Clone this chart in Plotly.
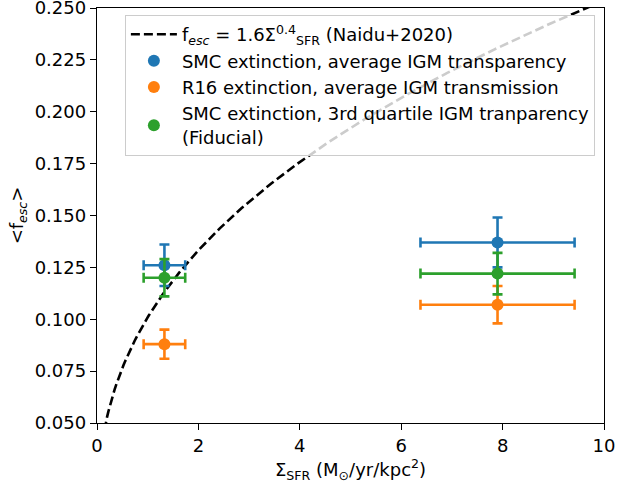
import numpy as np
import plotly.graph_objects as go

# Data
series_names = [
    "SMC extinction, average IGM transparency",
    "R16 extinction, average IGM transmission",
    "SMC extinction, 3rd quartile IGM tranparency<br>(Fiducial)",
]
series_colors = ["#1f77b4", "#ff7f0e", "#2ca02c"]
sigma_sfr = [1.33, 7.90]
sigma_sfr_err = [0.41, 1.52]
fesc_smc_avg = [0.126, 0.137]
fesc_smc_avg_err = [0.010, 0.012]
fesc_r16_avg = [0.088, 0.107]
fesc_r16_avg_err = [0.007, 0.009]
fesc_smc_q3 = [0.120, 0.122]
fesc_smc_q3_err = [0.009, 0.010]

# Naidu+2020 relation: f_esc = 1.6 * (Sigma_SFR/1000)^0.4 (as drawn)
naidu_coef = 1.6
naidu_pow = 0.4
naidu_scale = 1e-3

x_ticks = [0, 2, 4, 6, 8, 10]
y_ticks = [0.050, 0.075, 0.100, 0.125, 0.150, 0.175, 0.200, 0.225, 0.250]

FONT = "DejaVu Sans"
FS = 18

fig = go.Figure()

xs = np.linspace(0.1, 10, 400)
ys = naidu_coef * (xs * naidu_scale) ** naidu_pow
fig.add_trace(go.Scatter(
    x=xs, y=ys, mode="lines",
    line=dict(color="black", width=2.6, dash="9px,4px"),
    name="f<sub><i>esc</i></sub> = 1.6Σ<sup>0.4</sup><sub>SFR</sub> (Naidu+2020)",
))

values = [fesc_smc_avg, fesc_r16_avg, fesc_smc_q3]
errors = [fesc_smc_avg_err, fesc_r16_avg_err, fesc_smc_q3_err]
for name, col, v, e in zip(series_names, series_colors, values, errors):
    fig.add_trace(go.Scatter(
        x=sigma_sfr, y=v, mode="markers", name=name,
        marker=dict(color=col, size=12),
        error_x=dict(type="data", array=sigma_sfr_err, color=col, thickness=2.6, width=5),
        error_y=dict(type="data", array=e, color=col, thickness=2.6, width=5),
    ))

axis_common = dict(
    showline=True, linecolor="black", linewidth=1.4, mirror=True,
    ticks="outside", ticklen=6, tickwidth=1.4, tickcolor="black",
    showgrid=False, zeroline=False, automargin=False,
    ticklabeloverflow="allow",
    tickfont=dict(family=FONT, size=FS, color="black"),
)

fig.update_layout(
    width=617, height=483,
    margin=dict(l=97, r=13, t=8, b=60, autoexpand=False),
    plot_bgcolor="white", paper_bgcolor="white",
    font=dict(family=FONT, size=FS, color="black"),
    xaxis=dict(range=[0, 10], tickvals=x_ticks, ticktext=[str(t) for t in x_ticks],
               title=dict(text="Σ<sub>SFR</sub> (M<sub>⊙</sub>/yr/kpc<sup>2</sup>)",
                          font=dict(family=FONT, size=FS), standoff=8),
               **axis_common),
    yaxis=dict(range=[0.05, 0.25], tickvals=y_ticks, ticktext=[f"{t:.3f}" for t in y_ticks],
               title=dict(text="&lt;f<sub><i>esc</i></sub>&gt;",
                          font=dict(family=FONT, size=FS), standoff=6),
               **axis_common),
    legend=dict(
        x=0.055, y=0.983, xanchor="left", yanchor="top",
        bgcolor="rgba(255,255,255,0.8)", bordercolor="#cccccc", borderwidth=1,
        font=dict(family=FONT, size=FS, color="black"),
        tracegroupgap=0, itemwidth=46,
    ),
    showlegend=True,
)

fig.write_html("out.html", config={"displayModeBar": False},
               post_script="document.body.style.margin='0';document.body.style.overflow='hidden';")
